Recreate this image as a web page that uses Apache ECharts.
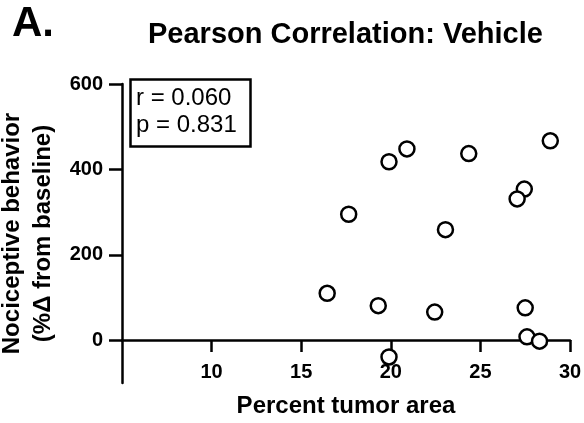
<!DOCTYPE html>
<html>
<head>
<meta charset="utf-8">
<script src="https://cdn.jsdelivr.net/npm/echarts@6/dist/echarts.min.js"></script>
<style>
  html, body { margin: 0; padding: 0; background: #fff; }
  #chart { width: 584px; height: 423px; }
</style>
</head>
<body>
<div id="chart"></div>
<script>
// percent tumor area vs nociceptive behavior, vehicle group
const tumorArea = [28.9, 20.9, 19.9, 24.35, 27.45, 27.05, 17.65, 23.05, 16.45, 19.3, 22.45, 27.5, 27.6, 28.3, 19.9]
const behavior = [467, 448, 418, 437, 354, 331, 295, 259, 110, 81, 66, 76, 8, -2, -39]
const xTicks = [10, 15, 20, 25, 30]
const yTicks = [0, 200, 400, 600]
const rValue = '0.060'
const pValue = '0.831'

const font = 'Arial, "Liberation Sans", sans-serif'
const points = tumorArea.map((x, i) => [x, behavior[i]])

const chart = echarts.init(document.getElementById('chart'))
chart.setOption({
  animation: false,
  title: [
    {
      text: 'A.',
      left: 7,
      top: -2,
      textStyle: { fontFamily: font, fontSize: 42, fontWeight: 'bold', color: '#000' }
    },
    {
      text: 'Pearson Correlation: Vehicle',
      left: 143,
      top: 15,
      textStyle: { fontFamily: font, fontSize: 29, fontWeight: 'bold', color: '#000' }
    },
    {
      text: 'r = ' + rValue + '\np = ' + pValue,
      left: 130,
      top: 79,
      borderColor: '#000',
      borderWidth: 2.5,
      padding: [6, 14, 8, 6],
      textStyle: { fontFamily: font, fontSize: 24, fontWeight: 'normal', color: '#000', lineHeight: 27 }
    }
  ],
  grid: {
    left: 122,
    right: 14,
    top: 84,
    bottom: 40,
    outerBoundsMode: 'none'
  },
  xAxis: {
    type: 'value',
    min: 5,
    max: 30,
    // x axis sits on y = 0, the y axis runs on down to -100
    offset: -43,
    name: 'Percent tumor area',
    nameLocation: 'middle',
    nameGap: 54,
    nameTextStyle: { fontFamily: font, fontSize: 24, fontWeight: 'bold', color: '#000' },
    axisLine: { onZero: false, lineStyle: { color: '#000', width: 2.5 } },
    axisTick: { customValues: xTicks, length: 12, lineStyle: { color: '#000', width: 2.5 } },
    axisLabel: {
      customValues: xTicks,
      margin: 22,
      fontFamily: font,
      fontSize: 20,
      fontWeight: 'bold',
      color: '#000'
    },
    splitLine: { show: false }
  },
  yAxis: {
    type: 'value',
    min: -100,
    max: 600,
    name: 'Nociceptive behavior\n(%\u0394 from baseline)',
    nameLocation: 'middle',
    nameGap: 55,
    nameTextStyle: { fontFamily: font, fontSize: 24, fontWeight: 'bold', color: '#000', lineHeight: 31 },
    axisLine: { onZero: false, lineStyle: { color: '#000', width: 2.5 } },
    axisTick: { customValues: yTicks, length: 13, lineStyle: { color: '#000', width: 2.5 } },
    axisLabel: {
      customValues: yTicks,
      margin: 19,
      fontFamily: font,
      fontSize: 20,
      fontWeight: 'bold',
      color: '#000'
    },
    splitLine: { show: false }
  },
  series: [
    {
      type: 'scatter',
      data: points,
      symbol: 'circle',
      symbolSize: 15,
      itemStyle: { color: '#fff', borderColor: '#000', borderWidth: 2.5, opacity: 1 }
    }
  ]
})
</script>
</body>
</html>
